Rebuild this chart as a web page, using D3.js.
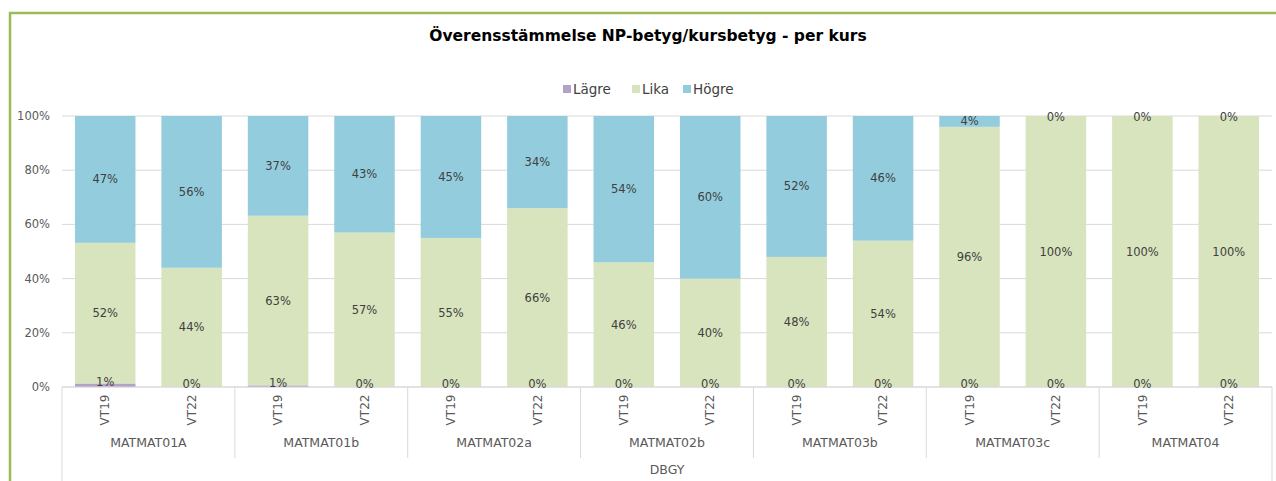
<!DOCTYPE html>
<meta charset="utf-8">
<style>
  body { margin: 0; background: #fff; }
  text { font-family: "DejaVu Sans", "Noto Sans", sans-serif; }
</style>
<svg width="1276" height="481"></svg>
<script src="https://d3js.org/d3.v7.min.js"></script>
<script>
// kurser och terminer
const courses = ["MATMAT01A", "MATMAT01b", "MATMAT02a", "MATMAT02b", "MATMAT03b", "MATMAT03c", "MATMAT04"]
const terms = ["VT19", "VT22"]
const groupLabel = "DBGY"

// andel i procent, en per stapel (kurs x termin)
const lagre = [1.3, 0, 0.6, 0, 0, 0, 0, 0, 0, 0, 0, 0, 0, 0]
const lika  = [51.9, 44, 62.6, 57, 55, 66, 46, 40, 48, 54, 96, 100, 100, 100]
const hogre = [46.8, 56, 36.8, 43, 45, 34, 54, 60, 52, 46, 4, 0, 0, 0]

const seriesNames = ["Lägre", "Lika", "Högre"]
const colours = ["#b3a2c7", "#d7e4bd", "#93cddd"]
const yTicks = [0, 20, 40, 60, 80, 100]

const svg = d3.select('svg')
const W = 1276, H = 481
const pLeft = 62, pRight = 1272, pTop = 116, pBottom = 387

// ram
svg.append('line').attr('x1', 9).attr('x2', W).attr('y1', 13).attr('y2', 13)
  .attr('stroke', '#9bbb59').attr('stroke-width', 2.5)
svg.append('line').attr('x1', 10).attr('x2', 10).attr('y1', 12).attr('y2', H)
  .attr('stroke', '#9bbb59').attr('stroke-width', 2.5)

svg.append('text')
  .attr('x', 648).attr('y', 41)
  .attr('text-anchor', 'middle')
  .attr('font-size', 15.5).attr('font-weight', 'bold').attr('fill', '#000')
  .text('Överensstämmelse NP-betyg/kursbetyg - per kurs')

// bygg rader
const rows = []
courses.forEach((c, i) => terms.forEach((t, j) => {
  const k = i * 2 + j
  rows.push({ key: c + '|' + t, course: c, term: t, "Lägre": lagre[k], "Lika": lika[k], "Högre": hogre[k] })
}))

const x = d3.scaleBand().domain(rows.map(d => d.key)).range([pLeft, pRight]).paddingInner(0.3).paddingOuter(0.15)
const xGroup = d3.scaleBand().domain(courses).range([pLeft, pRight])
const y = d3.scaleLinear().domain([0, 100]).range([pBottom, pTop]).clamp(true)

// rutnät
svg.append('g').selectAll('line').data(yTicks).enter().append('line')
  .attr('x1', pLeft).attr('x2', pRight)
  .attr('y1', d => y(d)).attr('y2', d => y(d))
  .attr('stroke', '#d9d9d9').attr('stroke-width', 1)

svg.append('g').selectAll('text').data(yTicks).enter().append('text')
  .attr('x', 50).attr('y', d => y(d)).attr('dy', '0.35em')
  .attr('text-anchor', 'end').attr('font-size', 11.5).attr('fill', '#595959')
  .text(d => d + '%')

const stack = d3.stack().keys(seriesNames)(rows)

const layers = svg.append('g').selectAll('g').data(stack).enter().append('g')
  .attr('fill', (d, i) => colours[i])

layers.selectAll('rect').data(d => d).enter().append('rect')
  .attr('x', d => x(d.data.key))
  .attr('width', x.bandwidth())
  .attr('y', d => y(d[1]))
  .attr('height', d => y(d[0]) - y(d[1]))

// kategoriaxel
const axisG = svg.append('g')
axisG.append('line').attr('x1', pLeft).attr('x2', pRight).attr('y1', pBottom).attr('y2', pBottom)
  .attr('stroke', '#d9d9d9')
courses.forEach((c, i) => {
  const gx = xGroup(c)
  axisG.append('line').attr('x1', gx).attr('x2', gx).attr('y1', pBottom)
    .attr('y2', i === 0 ? H : 458).attr('stroke', '#d9d9d9')
})
axisG.append('line').attr('x1', pRight).attr('x2', pRight).attr('y1', pBottom).attr('y2', H)
  .attr('stroke', '#d9d9d9')

svg.append('g').selectAll('text').data(rows).enter().append('text')
  .attr('transform', d => `translate(${x(d.key) + x.bandwidth() / 2},410) rotate(-90)`)
  .attr('text-anchor', 'middle').attr('dy', '0.35em')
  .attr('font-size', 12).attr('fill', '#595959')
  .text(d => d.term)

svg.append('g').selectAll('text').data(courses).enter().append('text')
  .attr('x', d => xGroup(d) + xGroup.bandwidth() / 2).attr('y', 443).attr('dy', '0.35em')
  .attr('text-anchor', 'middle').attr('font-size', 12.5).attr('fill', '#595959')
  .text(d => d)

svg.append('text')
  .attr('x', (pLeft + pRight) / 2).attr('y', 470).attr('dy', '0.35em')
  .attr('text-anchor', 'middle').attr('font-size', 12.5).attr('fill', '#595959')
  .text(groupLabel)

// etiketter, ritas ovanpå alla staplar
const labelG = svg.append('g')
stack.forEach((layer, li) => {
  labelG.selectAll(null).data(layer).enter().append('text')
    .attr('x', d => x(d.data.key) + x.bandwidth() / 2)
    .attr('y', d => {
      const mid = (y(d[0]) + y(d[1])) / 2
      if (d[1] - d[0] >= 2) return mid
      return li === 0 ? mid - 3 : mid + 1
    })
    .attr('dy', '0.35em')
    .attr('text-anchor', 'middle').attr('font-size', 11.5).attr('fill', '#404040')
    .text(d => Math.round(d[1] - d[0]) + '%')
})

// förklaring
const legendX = [563, 632, 683]
const legend = svg.append('g').selectAll('g').data(seriesNames).enter().append('g')
  .attr('transform', (d, i) => `translate(${legendX[i]},89)`)
legend.append('rect').attr('x', 0).attr('y', -4).attr('width', 8).attr('height', 8)
  .attr('fill', (d, i) => colours[i])
legend.append('text').attr('x', 10).attr('dy', '0.35em')
  .attr('font-size', 13.5).attr('fill', '#404040').text(d => d)
</script>
